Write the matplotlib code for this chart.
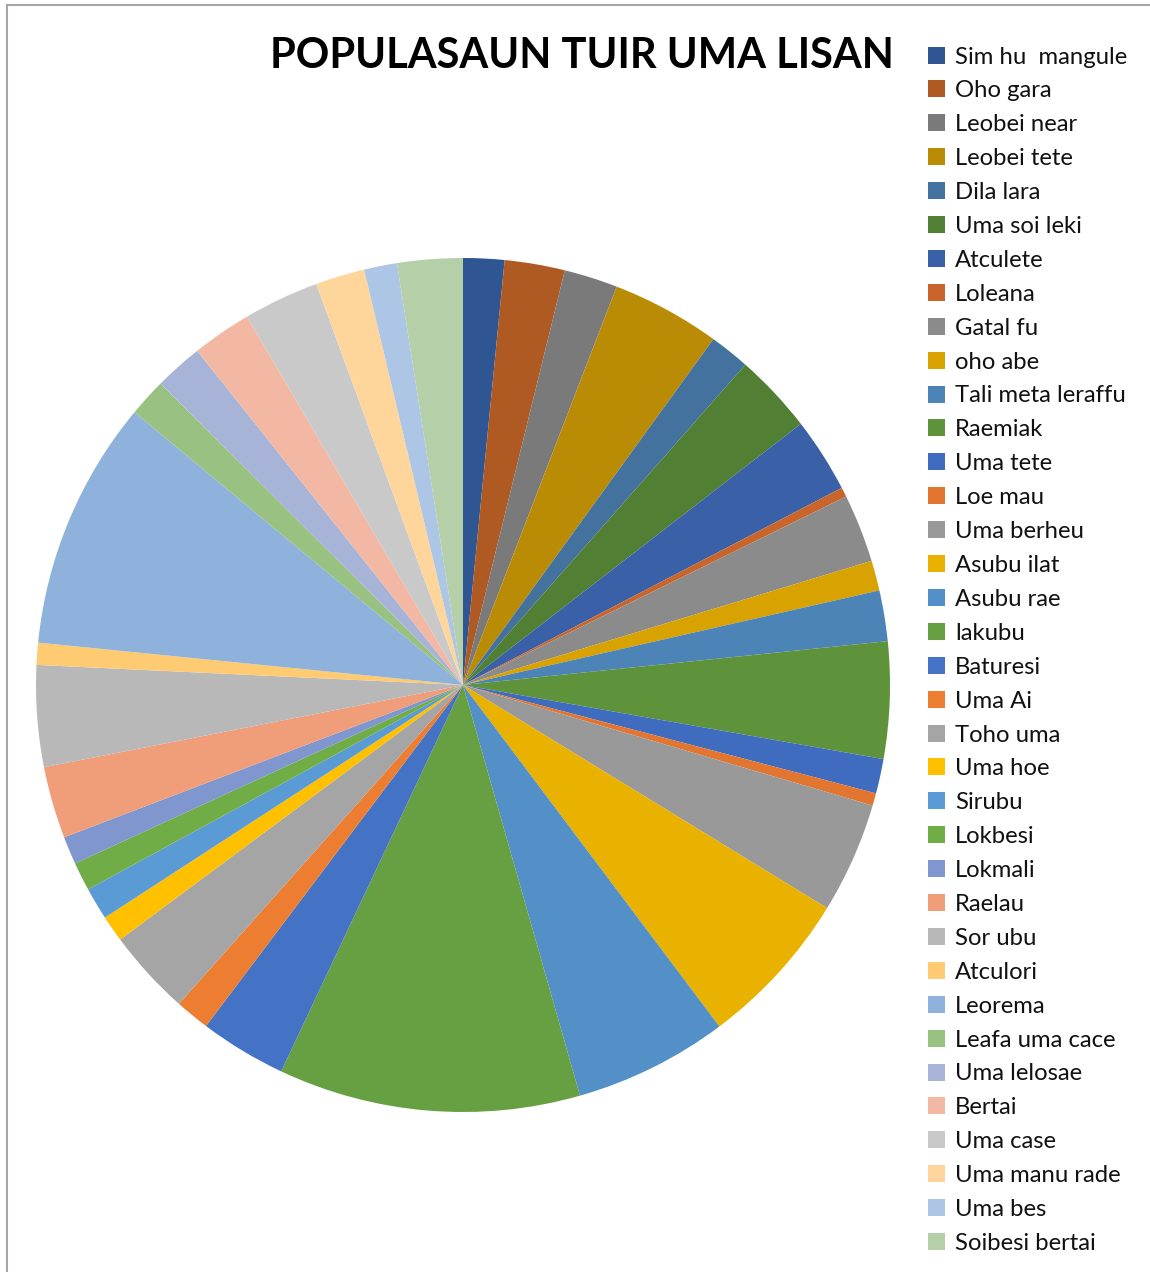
import matplotlib
matplotlib.use("Agg")
import matplotlib.pyplot as plt
from matplotlib.patches import Rectangle
from matplotlib.lines import Line2D

plt.rcParams['font.family'] = ['Lato', 'DejaVu Sans']

# uma lisan (legend order = slice order, clockwise from 12 o'clock)
labels = ["Sim hu  mangule", "Oho gara", "Leobei near", "Leobei tete", "Dila lara",
          "Uma soi leki", "Atculete", "Loleana", "Gatal fu", "oho abe",
          "Tali meta leraffu", "Raemiak", "Uma tete", "Loe mau", "Uma berheu",
          "Asubu ilat", "Asubu rae", "lakubu", "Baturesi", "Uma Ai",
          "Toho uma", "Uma hoe", "Sirubu", "Lokbesi", "Lokmali",
          "Raelau", "Sor ubu", "Atculori", "Leorema", "Leafa uma cace",
          "Uma lelosae", "Bertai", "Uma case", "Uma manu rade", "Uma bes",
          "Soibesi bertai"]

# populasaun
values = [5.6, 8.2, 7.3, 14.8, 5.5, 10.9, 10.2, 1.3, 9.3, 4.1,
          6.9, 15.9, 4.7, 1.7, 15.1, 21.6, 21.0, 41.1, 11.8, 4.7,
          11.7, 3.6, 4.4, 3.9, 3.8, 9.8, 13.8, 3.0, 34.0, 5.2,
          6.6, 8.1, 10.3, 6.7, 4.5, 8.9]

colors = ["#2F5593", "#AE5A22", "#7A7A7A", "#BA8C06", "#43729E", "#517F33",
          "#3A60A8", "#C9652A", "#8B8B8B", "#D8A200", "#4D84B8", "#5E923B",
          "#3F6CBE", "#E27630", "#999999", "#E9B100", "#5390C8", "#67A042",
          "#4472C4", "#ED7D31", "#A5A5A5", "#FFC000", "#5B9BD5", "#70AD47",
          "#7F96CF", "#F09E7A", "#B8B8B8", "#FECB72", "#8EB2DC", "#99C282",
          "#A7B4D8", "#F2B8A3", "#C9C9C9", "#FED69C", "#ADC6E5", "#B5D0A8"]

W, H = 1150, 1272
fig = plt.figure(figsize=(W / 100, H / 100), dpi=100)

# pie: centre (463, 685), radius 427 px
cx, cy, r = 463, 685, 427
ax = fig.add_axes([(cx - r) / W, (H - cy - r) / H, 2 * r / W, 2 * r / H])
wedges, _ = ax.pie(values, colors=colors, startangle=90, counterclock=False,
                   wedgeprops=dict(linewidth=0))
ax.set_xlim(-1, 1)
ax.set_ylim(-1, 1)
ax.axis('off')

fig.text(582 / W, 1 - 56 / H, "POPULASAUN TUIR UMA LISAN", ha='center', va='center',
         fontsize=30, fontweight='bold', color='black')

# legend
y0, dy = 55, 33.9
for i, (lab, w) in enumerate(zip(labels, wedges)):
    y = y0 + i * dy
    fig.patches.append(Rectangle((928 / W, 1 - (y + 8.5) / H), 17 / W, 17 / H,
                                 facecolor=w.get_facecolor(), edgecolor='none',
                                 transform=fig.transFigure, figure=fig))
    fig.text(955 / W, 1 - y / H, lab, ha='left', va='center_baseline',
             fontsize=17.2, color='#111111')

# chart area border (cut off on right and bottom)
fig.add_artist(Line2D([7 / W, 7 / W], [0, 1 - 5 / H], color='#A6A6A6', lw=1.5,
                      transform=fig.transFigure))
fig.add_artist(Line2D([7 / W, 1], [1 - 5 / H, 1 - 5 / H], color='#A6A6A6', lw=1.5,
                      transform=fig.transFigure))

fig.savefig("out.png", dpi=100)
